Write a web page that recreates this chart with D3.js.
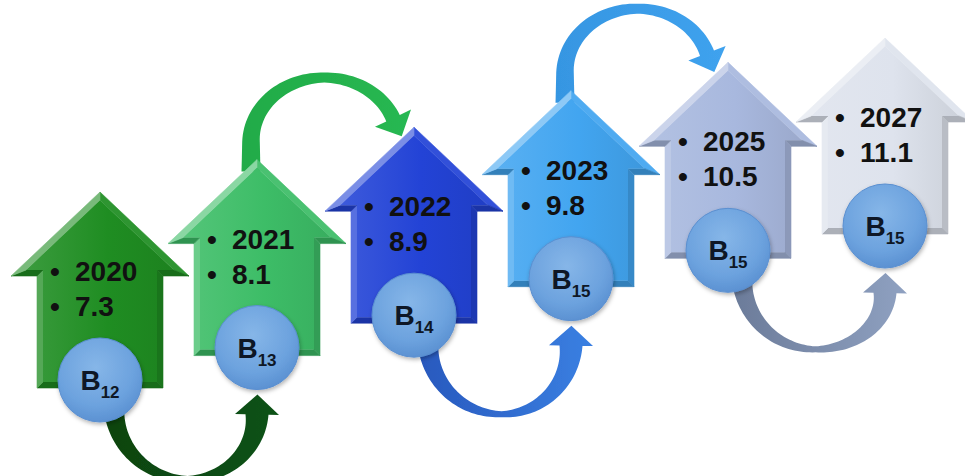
<!DOCTYPE html>
<html>
<head>
<meta charset="utf-8">
<script src="https://cdn.jsdelivr.net/npm/d3@7"></script>
<style>
  html, body { margin: 0; padding: 0; background: #ffffff; overflow: hidden; }
  svg { display: block; }
</style>
</head>
<body>
<svg id="chart" width="965" height="476"></svg>
<script>
// Yearly steps: each arrow carries a year, a value and a grade badge
const years  = ["2020", "2021", "2022", "2023", "2025", "2027"];
const values = [7.3, 8.1, 8.9, 9.8, 10.5, 11.1];
const grades = ["12", "13", "14", "15", "15", "15"];

// Palette for the step arrows and the connecting curved arrows
const arrowFill = ["#1f8d22", "#3dbd67", "#2343d6", "#42a5f0", "#a8b8de", "#dee3ed"];
const linkFill  = [["#0a4410", "#0e5216"], ["#20ab48", "#28b852"], ["#2858bd", "#3a80e2"],
                   ["#3696e2", "#3fa2ee"], ["#6b7b99", "#8fa1c1"]];

const W = 965, H = 476;
const svg = d3.select("#chart").attr("viewBox", `0 0 ${W} ${H}`);
const defs = svg.append("defs");

// Horizontal placement by year, vertical placement (arrow foot) by value
const x = d3.scalePoint().domain(years).range([100, 885]);
const y = d3.scaleLinear().domain([7.3, 11.1]).range([388, 234]);

// Arrow shape constants
const ARROW_H = 196, HEAD_BASE = 112, HEAD_HALF = 89, SHAFT_HALF = 63, BEVEL = 6;
const R = 42;

const steps = years.map((yr, i) => {
  const cx = x(yr), foot = y(values[i]);
  return { i, year: yr, value: values[i], grade: grades[i], cx, foot,
           tipY: foot - ARROW_H, circleY: foot - 8, color: arrowFill[i] };
});

// ---------- geometry helpers ----------
function arrowPoints(s) {
  const { cx, foot } = s;
  return [
    [cx, foot - ARROW_H],
    [cx + HEAD_HALF, foot - HEAD_BASE],
    [cx + SHAFT_HALF, foot - HEAD_BASE],
    [cx + SHAFT_HALF, foot],
    [cx - SHAFT_HALF, foot],
    [cx - SHAFT_HALF, foot - HEAD_BASE],
    [cx - HEAD_HALF, foot - HEAD_BASE]
  ];
}
function lineIntersect(p, u, q, v) {
  const den = u[0] * v[1] - u[1] * v[0];
  if (Math.abs(den) < 1e-9) return [p[0], p[1]];
  const t = ((q[0] - p[0]) * v[1] - (q[1] - p[1]) * v[0]) / den;
  return [p[0] + t * u[0], p[1] + t * u[1]];
}
// inset polygon; for this winding (-ey, ex) points inward
function inset(pts, d) {
  const n = pts.length;
  const lines = pts.map((p, i) => {
    const q = pts[(i + 1) % n];
    const e = [q[0] - p[0], q[1] - p[1]];
    const len = Math.hypot(e[0], e[1]);
    const nn = [-e[1] / len, e[0] / len];
    return { p: [p[0] + nn[0] * d, p[1] + nn[1] * d], u: e, out: [-nn[0], -nn[1]] };
  });
  const inner = pts.map((_, i) => {
    const a = lines[(i - 1 + n) % n], b = lines[i];
    return lineIntersect(a.p, a.u, b.p, b.u);
  });
  return { inner, lines };
}
const line = d3.line();

// ---------- gradients & filters ----------
steps.forEach(s => {
  const base = d3.color(s.color);
  const g = defs.append("linearGradient").attr("id", "face" + s.i)
    .attr("x1", "0").attr("y1", "0").attr("x2", "1").attr("y2", "0");
  g.append("stop").attr("offset", "0%").attr("stop-color", d3.interpolateRgb(base, "#ffffff")(0.12));
  g.append("stop").attr("offset", "55%").attr("stop-color", base.formatHex());
  g.append("stop").attr("offset", "100%").attr("stop-color", d3.interpolateRgb(base, "#000000")(0.08));
});
linkFill.forEach((c, i) => {
  const g = defs.append("linearGradient").attr("id", "link" + i)
    .attr("x1", "0").attr("y1", "0").attr("x2", "1").attr("y2", "0");
  g.append("stop").attr("offset", "0%").attr("stop-color", c[0]);
  g.append("stop").attr("offset", "100%").attr("stop-color", c[1]);
});
const rg = defs.append("radialGradient").attr("id", "ball")
  .attr("cx", "45%").attr("cy", "35%").attr("r", "70%");
rg.append("stop").attr("offset", "0%").attr("stop-color", "#86b6e8");
rg.append("stop").attr("offset", "65%").attr("stop-color", "#6ca2de");
rg.append("stop").attr("offset", "100%").attr("stop-color", "#578dcf");

const shadow = defs.append("filter").attr("id", "ballShadow")
  .attr("x", "-30%").attr("y", "-30%").attr("width", "160%").attr("height", "160%");
shadow.append("feDropShadow").attr("dx", 1).attr("dy", 2).attr("stdDeviation", 2)
  .attr("flood-color", "#000").attr("flood-opacity", 0.3);

const soft = defs.append("filter").attr("id", "soft");
soft.append("feGaussianBlur").attr("stdDeviation", 0.5);

// ---------- curved connector arrows ----------
function ribbon(center, widthAt, headHalf, headLen) {
  const n = center.length;
  const A = [], B = [];
  let lastN = [0, 0], lastU = [0, -1];
  center.forEach((p, i) => {
    const a = center[Math.max(0, i - 1)], b = center[Math.min(n - 1, i + 1)];
    const tx = b[0] - a[0], ty = b[1] - a[1];
    const len = Math.hypot(tx, ty) || 1;
    const u = [tx / len, ty / len];
    const nn = [-u[1], u[0]];
    const w = widthAt(i / (n - 1)) / 2;
    A.push([p[0] + nn[0] * w, p[1] + nn[1] * w]);
    B.push([p[0] - nn[0] * w, p[1] - nn[1] * w]);
    lastN = nn; lastU = u;
  });
  const e = center[n - 1];
  const hA = [e[0] + lastN[0] * headHalf, e[1] + lastN[1] * headHalf];
  const hB = [e[0] - lastN[0] * headHalf, e[1] - lastN[1] * headHalf];
  const tip = [e[0] + lastU[0] * headLen, e[1] + lastU[1] * headLen];
  return A.concat([hA, tip, hB], B.reverse());
}

// U-shaped link that dips below, from one badge to the next
function bottomLink(src, tgt) {
  const Lx = src.cx + 14, Ly = src.circleY + 26;
  const by = src.circleY + 99;
  const Rx = tgt.cx, Ry = tgt.circleY + 67;
  const mx = (Lx + Rx) / 2 + 2;
  const pts = [];
  const N = 40;
  for (let k = 0; k <= N; k++) {
    const a = (k / N) * Math.PI / 2;
    pts.push([mx - (mx - Lx) * Math.cos(a), Ly + (by - Ly) * Math.sin(a)]);
  }
  for (let k = 1; k <= N; k++) {
    const b = Math.PI / 2 - (k / N) * Math.PI / 2;
    pts.push([mx + (Rx - mx) * Math.cos(b), Ry + (by - Ry) * Math.sin(b)]);
  }
  const width = t => {
    const s = Math.abs(2 * t - 1);
    const wmax = t < 0.5 ? 21 : 23;
    return 6 + (wmax - 6) * Math.pow(s, 1.1);
  };
  return ribbon(pts, width, 22, 20);
}

// Loop that arcs over the top, from one arrow tip to the next
function topLink(src, tgt) {
  const sx = src.cx, sy = src.tipY;
  const Lx = sx - 6, cy = sy - 18, ry = 64;
  const hx = tgt.cx - 21, hy = tgt.tipY - 9;
  const sinP = Math.max(-1, Math.min(1, (cy - hy) / ry));
  const phi = Math.asin(sinP);
  const rx = (hx - Lx) / (1 + Math.cos(phi));
  const ccx = Lx + rx;
  const pts = [];
  const M = 5;
  for (let k = 0; k <= M; k++) pts.push([Lx, sy + 12 - (sy + 12 - cy) * k / M]);
  const N = 60;
  for (let k = 1; k <= N; k++) {
    const th = Math.PI - (Math.PI - phi) * k / N;
    pts.push([ccx + rx * Math.cos(th), cy - ry * Math.sin(th)]);
  }
  const total = pts.length - 1;
  const topT = (M + N * ((Math.PI / 2) / (Math.PI - phi))) / total;
  const width = t => {
    if (t < topT) return 19 - 9 * Math.pow(t / topT, 0.9);
    return 10 + 5 * (t - topT) / (1 - topT);
  };
  return ribbon(pts, width, 20, 20);
}

const links = svg.append("g").attr("class", "links");
d3.range(steps.length - 1).forEach(i => {
  const src = steps[i], tgt = steps[i + 1];
  const pts = i % 2 === 0 ? bottomLink(src, tgt) : topLink(src, tgt);
  links.append("path")
    .attr("d", line(pts) + "Z")
    .attr("fill", `url(#link${i})`)
    .attr("filter", "url(#soft)");
});

// ---------- step arrows ----------
const light = [-0.6, -0.8];
const arrows = svg.append("g").attr("class", "arrows")
  .selectAll("g").data(steps).join("g");

arrows.each(function (s) {
  const g = d3.select(this);
  const outer = arrowPoints(s);
  const { inner, lines } = inset(outer, BEVEL);
  const base = d3.color(s.color);
  outer.forEach((p, k) => {
    const q = outer[(k + 1) % outer.length];
    const ip = inner[k], iq = inner[(k + 1) % outer.length];
    const o = lines[k].out;
    const sh = o[0] * light[0] + o[1] * light[1];
    const col = sh >= 0 ? d3.interpolateRgb(base, "#ffffff")(sh * 0.4)
                        : d3.interpolateRgb(base, "#000000")(-sh * 0.28);
    g.append("path").attr("d", line([p, q, iq, ip]) + "Z")
      .attr("fill", col).attr("stroke", col).attr("stroke-width", 0.6);
  });
  g.append("path").attr("d", line(inner) + "Z").attr("fill", `url(#face${s.i})`);
});

// Bulleted year / value text
const textFont = "'Liberation Sans', Arial, Helvetica, sans-serif";
arrows.each(function (s) {
  const g = d3.select(this);
  const rows = [s.year, String(s.value)];
  rows.forEach((t, k) => {
    const by = s.foot - 107 + k * 35;
    g.append("text").attr("x", s.cx - 45).attr("y", by)
      .attr("text-anchor", "middle")
      .style("font", `bold 28px ${textFont}`).attr("fill", "#111111").text("•");
    g.append("text").attr("x", s.cx - 25).attr("y", by)
      .style("font", `bold 28px ${textFont}`).attr("fill", "#111111").text(t);
  });
});

// ---------- grade badges ----------
const badges = svg.append("g").attr("class", "badges")
  .selectAll("g").data(steps).join("g");
badges.append("circle")
  .attr("cx", d => d.cx).attr("cy", d => d.circleY).attr("r", R)
  .attr("fill", "url(#ball)").attr("stroke", "#5a8fd0").attr("stroke-width", 1)
  .attr("filter", "url(#ballShadow)");
const label = badges.append("text")
  .attr("x", d => d.cx).attr("y", d => d.circleY + 10)
  .attr("text-anchor", "middle")
  .style("font", `bold 28px ${textFont}`).attr("fill", "#0e1726");
label.append("tspan").text("B");
label.append("tspan").attr("dy", 8).style("font-size", "17px").text(d => d.grade);
</script>
</body>
</html>
